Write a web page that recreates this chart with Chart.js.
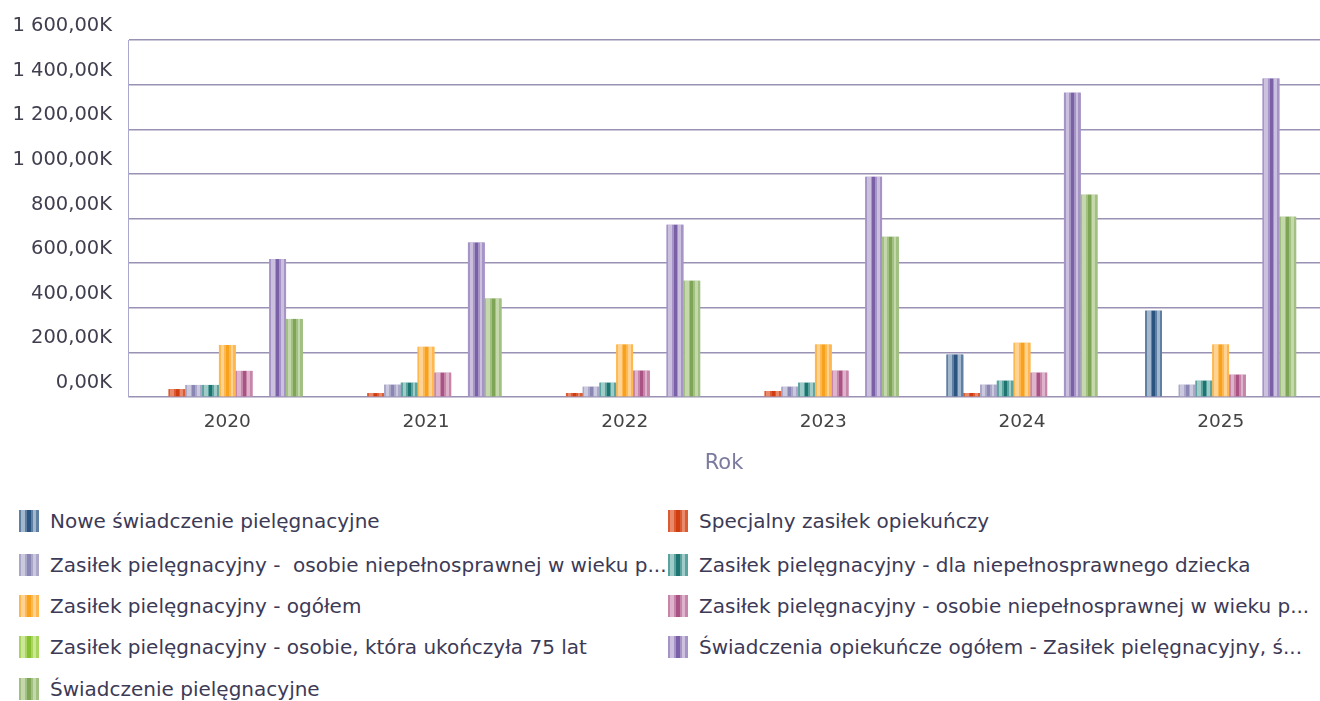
<!DOCTYPE html>
<html lang="pl">
<head>
<meta charset="utf-8">
<title>Świadczenia opiekuńcze</title>
<script src="https://cdn.jsdelivr.net/npm/chart.js@4.4.1/dist/chart.umd.min.js"></script>
<style>
  html, body { margin: 0; padding: 0; background: #ffffff; }
  body { width: 1320px; height: 701px; position: relative; overflow: hidden; font-family: "DejaVu Sans", sans-serif; }
  #wrap { position: absolute; left: 0; top: 0; width: 1320px; height: 480px; }
  #legend { position: absolute; left: 0; top: 500px; width: 1320px; height: 201px; }
  .item { position: absolute; height: 24px; white-space: pre;
          font-size: 20px; color: #3d3a56; line-height: 24px; }
  .swatch { position: absolute; width: 20px; height: 22px; }
</style>
</head>
<body>
<div id="wrap"><canvas id="c" width="1320" height="480"></canvas></div>
<div id="legend"></div>
<script>
// Years on the category axis
const years = ['2020', '2021', '2022', '2023', '2024', '2025'];

// Series names as shown in the legend
const seriesNames = [
  'Nowe świadczenie pielęgnacyjne',
  'Specjalny zasiłek opiekuńczy',
  'Zasiłek pielęgnacyjny -  osobie niepełnosprawnej w wieku p...',
  'Zasiłek pielęgnacyjny - dla niepełnosprawnego dziecka',
  'Zasiłek pielęgnacyjny - ogółem',
  'Zasiłek pielęgnacyjny - osobie niepełnosprawnej w wieku p...',
  'Zasiłek pielęgnacyjny - osobie, która ukończyła 75 lat',
  'Świadczenia opiekuńcze ogółem - Zasiłek pielęgnacyjny, ś...',
  'Świadczenie pielęgnacyjne'
];

// Values in thousands
const noweSwiadczenie   = [null, null, null, null, 190, 387];
const specjalnyZasilek  = [35, 17, 18, 27, 18, null];
const zasilekWiekP      = [54, 55, 46, 46, 55, 55];
const zasilekDziecko    = [54, 64, 64, 64, 73, 73];
const zasilekOgolem     = [233, 225, 235, 235, 243, 235];
const zasilekWiekP2     = [117, 109, 118, 118, 109, 100];
const zasilek75         = [null, null, null, null, null, null];
const swiadczeniaOgolem = [618, 692, 772, 987, 1364, 1427];
const swiadczeniePiel   = [350, 441, 521, 718, 907, 808];

const seriesValues = [noweSwiadczenie, specjalnyZasilek, zasilekWiekP, zasilekDziecko,
  zasilekOgolem, zasilekWiekP2, zasilek75, swiadczeniaOgolem, swiadczeniePiel];

// Y axis ticks (thousands)
const yTicks = [0, 200, 400, 600, 800, 1000, 1200, 1400, 1600];

// Light / mid / dark shade for each series' striped fill
const shades = [
  ['#a3b7cd', '#5f7fa3', '#2b5481'],
  ['#e98a6c', '#dc5c31', '#cf3d10'],
  ['#cbc9de', '#aaa7c9', '#8a86b3'],
  ['#a0cbc8', '#5aa39f', '#1d7470'],
  ['#ffd393', '#ffb84f', '#f8a11c'],
  ['#ddb4cb', '#c785a9', '#a85383'],
  ['#cbe797', '#a8d55d', '#86c030'],
  ['#cbc1de', '#a694c7', '#7a61a7'],
  ['#c4d8ab', '#a1c082', '#7da555']
];

// Stripe layout across a bar's width: [from, to, shade index]
const stripes = [
  [0.00, 0.10, 1], [0.10, 0.32, 0], [0.32, 0.42, 1], [0.42, 0.60, 2],
  [0.60, 0.70, 1], [0.70, 0.86, 0], [0.86, 1.00, 1]
];

const FONT = 'DejaVu Sans';

function fmtK(v) {
  const s = String(Math.round(v));
  const grouped = s.replace(/\B(?=(\d{3})+(?!\d))/g, ' ');
  return grouped + ',00K';
}

function stripeGradient(ctx, x0, x1, shade) {
  const g = ctx.createLinearGradient(x0, 0, x1, 0);
  stripes.forEach(([a, b, i]) => {
    g.addColorStop(a, shade[i]);
    g.addColorStop(b, shade[i]);
  });
  return g;
}

// Paint the striped texture on every bar from the bar elements' own geometry
const stripePlugin = {
  id: 'stripes',
  afterDatasetsDraw(chart) {
    const ctx = chart.ctx;
    chart.data.datasets.forEach((ds, di) => {
      const meta = chart.getDatasetMeta(di);
      if (meta.hidden) return;
      meta.data.forEach((bar) => {
        if (bar.skip || bar.y == null || isNaN(bar.y)) return;
        const x0 = bar.x - bar.width / 2, x1 = bar.x + bar.width / 2;
        const top = Math.min(bar.y, bar.base), h = Math.abs(bar.base - bar.y);
        if (h < 0.5) return;
        ctx.save();
        ctx.fillStyle = stripeGradient(ctx, x0, x1, shades[di]);
        ctx.fillRect(x0, top, x1 - x0, h);
        ctx.restore();
      });
    });
  }
};

const datasets = seriesValues.map((vals, i) => ({
  label: seriesNames[i],
  data: vals,
  backgroundColor: shades[i][1],
  borderWidth: 0,
  categoryPercentage: 0.76,
  barPercentage: 1.0
}));

new Chart(document.getElementById('c'), {
  type: 'bar',
  data: { labels: years, datasets },
  plugins: [stripePlugin],
  options: {
    responsive: false,
    animation: false,
    layout: { padding: { top: 40, right: 0, bottom: 0, left: 0 } },
    plugins: { legend: { display: false }, tooltip: { enabled: false } },
    scales: {
      x: {
        grid: { display: false, drawTicks: false },
        border: { display: false },
        ticks: { color: '#444444', font: { family: FONT, size: 18.5 }, padding: 14 },
        title: { display: true, text: 'Rok', color: '#7b7a9f', font: { family: FONT, size: 21 }, padding: { top: 8, bottom: 4 } },
        afterFit(scale) { scale.height = 83; }
      },
      y: {
        min: 0, max: 1600,
        afterBuildTicks(scale) { scale.ticks = yTicks.map(v => ({ value: v })); },
        grid: { color: '#9a92b4', lineWidth: 1.5, drawTicks: false },
        border: { display: true, color: '#a9a8cf', width: 1 },
        ticks: {
          color: '#3f3f4f', font: { family: FONT, size: 19.5 }, padding: 16,
          labelOffset: -14,
          callback: (v) => fmtK(v)
        },
        afterFit(scale) { scale.width = 128; }
      }
    }
  }
});

// Two-column legend built from the same series names and shades
const legend = document.getElementById('legend');
const rowTops = [10, 54, 95, 136, 178];
seriesNames.forEach((name, i) => {
  const col = i % 2, row = Math.floor(i / 2);
  const sw = document.createElement('div');
  sw.className = 'swatch';
  const stops = stripes.map(([a, b, k]) => `${shades[i][k]} ${a * 100}%, ${shades[i][k]} ${b * 100}%`).join(', ');
  sw.style.background = `linear-gradient(to right, ${stops})`;
  sw.style.left = (col ? 668 : 19) + 'px';
  sw.style.top = rowTops[row] + 'px';
  const tx = document.createElement('div');
  tx.className = 'item';
  tx.textContent = name;
  tx.style.left = (col ? 699 : 50) + 'px';
  tx.style.top = (rowTops[row] - 1) + 'px';
  legend.appendChild(sw);
  legend.appendChild(tx);
});
</script>
</body>
</html>
